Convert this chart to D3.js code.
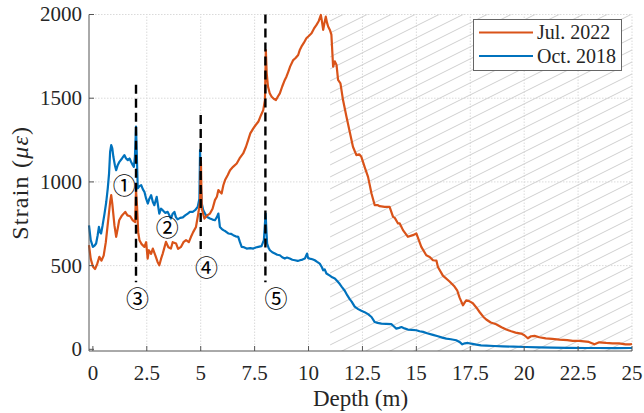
<!DOCTYPE html>
<html>
<head>
<meta charset="utf-8">
<script src="https://cdn.jsdelivr.net/npm/d3@7"></script>
<style>
  body { margin: 0; background: #fff; }
  svg { display: block; }
  .serif { font-family: "Liberation Serif", "DejaVu Serif", serif; }
</style>
</head>
<body>
<script>
// ---- data ----
const depthTicks = [0, 2.5, 5, 7.5, 10, 12.5, 15, 17.5, 20, 22.5, 25];
const strainTicks = [0, 500, 1000, 1500, 2000];
const seriesNames = ["Jul. 2022", "Oct. 2018"];
const seriesColors = ["#D95319", "#0072BD"];

// [depth (m), strain (με)]
const jul2022 = [
  [-0.18, 622], [-0.1, 540], [0.0, 495], [0.1, 480], [0.2, 510], [0.3, 552], [0.4, 530], [0.5, 560],
  [0.6, 640], [0.7, 760], [0.8, 880], [0.85, 921], [0.9, 870], [1.0, 740], [1.08, 672], [1.15, 720],
  [1.22, 771], [1.35, 800], [1.5, 821], [1.6, 800], [1.73, 795], [1.85, 770], [1.96, 760], [2.0, 951],
  [2.05, 850], [2.1, 700], [2.16, 652], [2.25, 630], [2.39, 612], [2.47, 640], [2.54, 542], [2.6, 592],
  [2.7, 570], [2.78, 602], [2.9, 560], [3.0, 522], [3.08, 502], [3.16, 540], [3.24, 572], [3.3, 600],
  [3.39, 642], [3.5, 610], [3.62, 602], [3.7, 640], [3.86, 632], [3.95, 600], [4.09, 612], [4.2, 640],
  [4.32, 652], [4.45, 640], [4.55, 672], [4.65, 700], [4.78, 731], [4.9, 820], [4.97, 880], [5.01, 1120],
  [5.05, 840], [5.17, 781], [5.3, 800], [5.43, 811], [5.55, 840], [5.66, 891], [5.75, 911], [5.82, 951],
  [5.9, 940], [5.97, 931], [6.05, 980], [6.13, 1011], [6.25, 1040], [6.36, 1070], [6.5, 1090], [6.67, 1110],
  [6.8, 1140], [6.97, 1170], [7.1, 1210], [7.2, 1250], [7.3, 1290], [7.44, 1320], [7.55, 1340], [7.67, 1359],
  [7.8, 1400], [7.9, 1429], [7.98, 1489], [8.02, 1788], [8.06, 1650], [8.12, 1570], [8.2, 1530], [8.29, 1509],
  [8.4, 1495], [8.49, 1489], [8.58, 1510], [8.67, 1529], [8.78, 1570], [8.9, 1609], [8.98, 1630], [9.06, 1658],
  [9.15, 1690], [9.29, 1728], [9.4, 1740], [9.52, 1758], [9.6, 1790], [9.67, 1808], [9.78, 1830], [9.9, 1858],
  [10.0, 1870], [10.14, 1888], [10.25, 1915], [10.37, 1938], [10.47, 1960], [10.57, 1997], [10.62, 1960], [10.68, 1908],
  [10.74, 1950], [10.8, 1987], [10.86, 1950], [10.91, 1928], [10.99, 1908], [11.06, 1880], [11.14, 1688], [11.22, 1720],
  [11.3, 1698], [11.37, 1609], [11.48, 1589], [11.6, 1489], [11.76, 1389], [11.91, 1300], [12.06, 1210], [12.22, 1160],
  [12.35, 1165], [12.45, 1150], [12.6, 1090], [12.76, 1030], [12.92, 931], [13.07, 861], [13.22, 861], [13.3, 855],
  [13.53, 851], [13.76, 851], [13.92, 791], [14.0, 785], [14.15, 752], [14.23, 752], [14.38, 712], [14.61, 672],
  [14.84, 682], [15.0, 692], [15.23, 612], [15.46, 562], [15.62, 552], [15.77, 532], [15.93, 530], [16.0, 492],
  [16.23, 440], [16.54, 405], [16.77, 375], [16.9, 350], [17.0, 310], [17.16, 263], [17.31, 293], [17.45, 288],
  [17.62, 275], [17.78, 250], [17.93, 223], [18.1, 195], [18.24, 178], [18.45, 160], [18.7, 150], [18.95, 132],
  [19.17, 118], [19.4, 108], [19.6, 100], [19.86, 94], [20.01, 84], [20.17, 66], [20.32, 78], [20.48, 80],
  [20.7, 72], [21.0, 65], [21.3, 62], [21.63, 58], [22.0, 55], [22.25, 50], [22.55, 50], [23.0, 44],
  [23.26, 30], [23.48, 42], [23.8, 38], [24.1, 36], [24.4, 36], [24.7, 30], [24.9, 30], [25.0, 32]
];

const oct2018 = [
  [-0.18, 741], [-0.1, 652], [0.0, 612], [0.08, 620], [0.15, 632], [0.22, 680], [0.28, 731], [0.33, 700],
  [0.38, 692], [0.45, 740], [0.54, 811], [0.62, 880], [0.69, 961], [0.75, 1050], [0.8, 1180], [0.85, 1220],
  [0.9, 1200], [0.95, 1150], [1.02, 1100], [1.08, 1070], [1.15, 1100], [1.23, 1120], [1.35, 1140], [1.46, 1160],
  [1.54, 1140], [1.62, 1130], [1.7, 1140], [1.77, 1120], [1.85, 1100], [1.9, 1090], [1.95, 1150], [2.0, 1330],
  [2.04, 1150], [2.08, 961], [2.16, 975], [2.24, 981], [2.32, 955], [2.39, 941], [2.47, 900], [2.55, 871],
  [2.62, 900], [2.7, 921], [2.78, 880], [2.85, 861], [2.96, 911], [3.02, 860], [3.08, 811], [3.16, 840],
  [3.24, 831], [3.35, 815], [3.47, 821], [3.55, 800], [3.62, 781], [3.7, 810], [3.78, 821], [3.85, 790],
  [3.93, 776], [4.05, 785], [4.17, 788], [4.28, 800], [4.4, 811], [4.5, 821], [4.63, 821], [4.74, 831],
  [4.86, 851], [4.94, 900], [4.97, 1190], [5.0, 1000], [5.05, 871], [5.12, 830], [5.2, 811], [5.3, 790],
  [5.43, 781], [5.55, 775], [5.66, 771], [5.75, 790], [5.82, 811], [5.89, 731], [5.97, 720], [6.05, 712],
  [6.15, 705], [6.28, 692], [6.4, 690], [6.51, 682], [6.62, 675], [6.74, 672], [6.82, 640], [6.9, 612],
  [7.0, 610], [7.13, 602], [7.3, 605], [7.44, 602], [7.55, 608], [7.67, 612], [7.82, 616], [7.93, 652],
  [8.01, 811], [8.05, 700], [8.08, 632], [8.15, 605], [8.21, 592], [8.32, 580], [8.44, 572], [8.55, 565],
  [8.67, 562], [8.78, 550], [8.9, 542], [9.0, 548], [9.13, 542], [9.25, 535], [9.37, 532], [9.5, 528],
  [9.6, 532], [9.72, 536], [9.83, 542], [9.93, 572], [9.98, 545], [10.06, 542], [10.18, 538], [10.29, 532],
  [10.4, 522], [10.52, 512], [10.62, 490], [10.68, 472], [10.75, 478], [10.83, 453], [10.99, 440], [11.1, 430],
  [11.22, 423], [11.35, 405], [11.45, 390], [11.55, 372], [11.68, 350], [11.8, 322], [11.91, 300], [12.0, 285],
  [12.14, 255], [12.3, 240], [12.45, 230], [12.6, 222], [12.76, 210], [12.92, 193], [13.07, 163], [13.2, 158],
  [13.38, 154], [13.6, 152], [13.84, 150], [13.95, 138], [14.07, 124], [14.2, 128], [14.31, 133], [14.45, 125],
  [14.61, 118], [14.8, 116], [15.0, 114], [15.15, 108], [15.31, 104], [15.5, 96], [15.77, 86], [16.0, 78],
  [16.2, 70], [16.39, 64], [16.6, 60], [16.85, 54], [17.0, 44], [17.13, 30], [17.25, 36], [17.39, 38],
  [17.6, 33], [17.78, 28], [18.0, 24], [18.24, 22], [18.6, 20], [19.0, 18], [19.5, 16], [20.09, 14],
  [20.7, 12], [21.3, 10], [22.0, 9], [22.87, 8], [23.5, 8], [24.2, 7], [24.88, 8], [25.0, 8]
];

// vertical marker lines: [depth, strain from, strain to]
const markerLines = [[2, 400, 1580], [5, 600, 1400], [8, 400, 2000]];
// circled labels: [text, depth, strain]
const circledLabels = [["①", 1.45, 987], ["②", 3.45, 736], ["③", 2.07, 313], ["④", 5.27, 500], ["⑤", 8.49, 313]];
// shaded depth interval
const shadedRange = [11, 25];

// ---- drawing ----
const W = 644, H = 413;
const svg = d3.select("body").append("svg").attr("width", W).attr("height", H);

const x = d3.scaleLinear().domain([-0.18, 25]).range([89, 632]);
const y = d3.scaleLinear().domain([-10, 2000]).range([351, 14.5]);
const [xl, xr] = x.range();
const [yb, yt] = y.range();

const axisColor = "#555";
const textColor = "#262626";

// grid
const grid = svg.append("g").attr("stroke", "#dadada").attr("stroke-width", 1).attr("stroke-dasharray", "1.5,1.5");
grid.selectAll(".gx").data(depthTicks.filter(d => d > 0)).join("line")
  .attr("x1", d => x(d)).attr("x2", d => x(d)).attr("y1", yb).attr("y2", yt);
grid.selectAll(".gy").data(strainTicks.filter(d => d > 0)).join("line")
  .attr("x1", xl).attr("x2", xr).attr("y1", d => y(d)).attr("y2", d => y(d));

// hatched zone
const defs = svg.append("defs");
defs.append("clipPath").attr("id", "hatchClip").append("rect")
  .attr("x", x(shadedRange[0])).attr("y", yt)
  .attr("width", x(shadedRange[1]) - x(shadedRange[0])).attr("height", yb - yt);
const hatch = svg.append("g").attr("clip-path", "url(#hatchClip)")
  .attr("stroke", "#cfcfcf").attr("stroke-width", 1);
const hx0 = x(shadedRange[0]), hx1 = x(shadedRange[1]);
const slope = 0.5, gap = 12, refX = 520, refY = 106;
const offsets = d3.range(-40, 60);
hatch.selectAll("line").data(offsets).join("line")
  .attr("x1", hx0).attr("y1", k => refY + k * gap + slope * (refX - hx0))
  .attr("x2", hx1).attr("y2", k => refY + k * gap - slope * (hx1 - refX));

// series
const line = d3.line().x(d => x(d[0])).y(d => y(d[1]));
const plot = svg.append("g").attr("fill", "none").attr("stroke-width", 2.2)
  .attr("stroke-linejoin", "round");
plot.append("path").datum(oct2018).attr("stroke", seriesColors[1]).attr("d", line);
plot.append("path").datum(jul2022).attr("stroke", seriesColors[0]).attr("d", line);

// dashed markers
svg.append("g").selectAll("line").data(markerLines).join("line")
  .attr("x1", d => x(d[0])).attr("x2", d => x(d[0]))
  .attr("y1", d => y(d[2])).attr("y2", d => y(d[1]))
  .attr("stroke", "#000").attr("stroke-width", 2.4).attr("stroke-dasharray", "9,5");

// circled labels
svg.append("g").selectAll("text").data(circledLabels).join("text")
  .attr("x", d => x(d[1])).attr("y", d => y(d[2]))
  .attr("text-anchor", "middle").attr("dominant-baseline", "central")
  .style("font-family", "\"Noto Sans CJK JP\", \"DejaVu Sans\", sans-serif")
  .attr("font-size", 23).attr("fill", "#000")
  .text(d => d[0]);

// axes
const axes = svg.append("g").attr("stroke", axisColor).attr("stroke-width", 1);
axes.append("line").attr("x1", xl).attr("x2", xr).attr("y1", yb).attr("y2", yb);
axes.append("line").attr("x1", xl).attr("x2", xl).attr("y1", yb).attr("y2", yt);
axes.selectAll(".tx").data(depthTicks).join("line")
  .attr("x1", d => x(d)).attr("x2", d => x(d)).attr("y1", yb).attr("y2", yb - 5);
axes.selectAll(".ty").data(strainTicks).join("line")
  .attr("x1", xl).attr("x2", xl + 5).attr("y1", d => y(d)).attr("y2", d => y(d));

const fmt = d => String(d);
svg.append("g").attr("class", "serif").selectAll("text").data(depthTicks).join("text")
  .attr("x", d => x(d)).attr("y", yb + 29)
  .attr("text-anchor", "middle").attr("font-size", 21)
  .attr("fill", textColor).text(fmt);
svg.append("g").attr("class", "serif").selectAll("text").data(strainTicks).join("text")
  .attr("x", xl - 7).attr("y", d => y(d)).attr("dy", "0.33em")
  .attr("text-anchor", "end").attr("font-size", 21)
  .attr("fill", textColor).text(fmt);

// axis titles
svg.append("text").attr("class", "serif").attr("x", (xl + xr) / 2).attr("y", 406)
  .attr("text-anchor", "middle").attr("font-size", 23)
  .attr("fill", textColor).text("Depth (m)");
const yTitle = svg.append("text").attr("class", "serif")
  .attr("transform", `translate(28, ${(yb + yt) / 2}) rotate(-90)`)
  .attr("text-anchor", "middle").attr("font-size", 24)
  .attr("letter-spacing", 1.2).attr("fill", textColor);
yTitle.append("tspan").text("Strain (");
yTitle.append("tspan").attr("font-style", "italic").text("με");
yTitle.append("tspan").text(")");

// legend
const lg = svg.append("g");
lg.append("rect").attr("x", 473.5).attr("y", 19.5).attr("width", 148).attr("height", 51)
  .attr("fill", "#fff").attr("stroke", "#666").attr("stroke-width", 1);
const items = lg.selectAll("g").data(seriesNames).join("g")
  .attr("transform", (d, i) => `translate(0, ${32.5 + i * 23.5})`);
items.append("line").attr("x1", 479).attr("x2", 533).attr("y1", 0).attr("y2", 0)
  .attr("stroke", (d, i) => seriesColors[i]).attr("stroke-width", 2.2);
items.append("text").attr("class", "serif").attr("x", 537).attr("y", 0).attr("dy", "0.33em")
  .attr("font-size", 20).attr("fill", textColor).text(d => d);
</script>
</body>
</html>
